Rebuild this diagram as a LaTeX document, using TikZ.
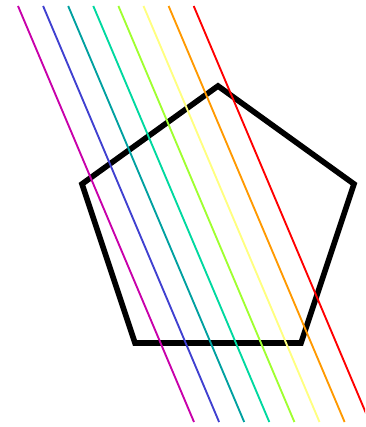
\documentclass[tikz,border=0pt]{standalone}
\usepackage{tikz}

\definecolor{raymagenta}{RGB}{200,0,170}
\definecolor{rayblue}{RGB}{64,64,208}
\definecolor{rayteal}{RGB}{0,160,160}
\definecolor{raygreen}{RGB}{0,216,160}
\definecolor{raylime}{RGB}{160,255,48}
\definecolor{rayyellow}{RGB}{255,255,128}
\definecolor{rayorange}{RGB}{255,153,0}
\definecolor{rayred}{RGB}{255,0,0}

\begin{document}
\begin{tikzpicture}[
    x=0.03cm, y=-0.03cm,
    % Define styles
    pentagonline/.style={draw=black, line width=4.8pt, line join=miter},
    rayline/.style={line width=1.6pt}
]

    \useasboundingbox (0,0) rectangle (365,427);
    \clip (0,0) rectangle (365,427);

    % 1. The pentagon
    \coordinate (top) at (218,86);
    \coordinate (right) at (354,184);
    \coordinate (lowright) at (301,343);
    \coordinate (lowleft) at (135,343);
    \coordinate (left) at (82,184);
    \draw[pentagonline] (top) -- (right) -- (lowright) -- (lowleft) -- (left) -- cycle;

    % 2. The parallel rays
    \foreach \col [count=\i from 0] in {raymagenta, rayblue, rayteal, raygreen, raylime, rayyellow, rayorange, rayred} {
        \coordinate (start\i) at (18+25.1*\i, 6);
        \coordinate (end\i) at (194+25.1*\i, 422);
        \draw[rayline, draw=\col] (start\i) -- (end\i);
    }

\end{tikzpicture}
\end{document}
